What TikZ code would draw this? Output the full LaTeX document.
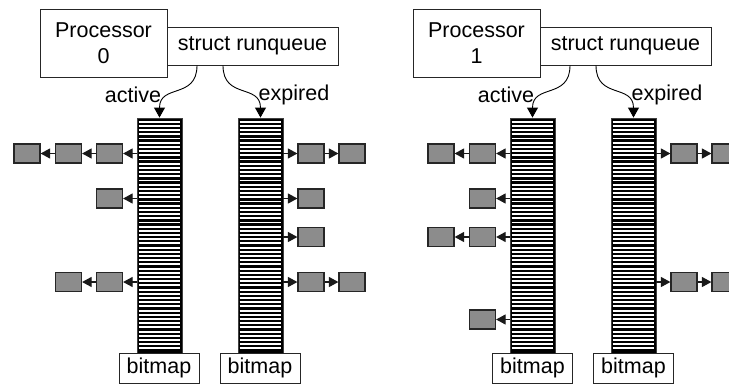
\documentclass[tikz,border=0pt]{standalone}
\usepackage{fontspec}
\setmainfont{Liberation Sans}
\usetikzlibrary{arrows.meta}
\tikzset{
  box/.style={draw=black!85, line width=0.9pt, fill=white, inner sep=0pt, align=center},
  proc/.style={box, minimum width=127pt, minimum height=68pt},
  rq/.style={box, minimum width=171pt, minimum height=38pt},
  bmp/.style={box, minimum width=80pt, minimum height=30pt},
  arr/.style={draw=black!75, line width=0.9pt, fill=black, minimum width=45pt, minimum height=235pt, inner sep=0pt},
  task/.style={draw=black!85, line width=1.2pt, fill=black!45, minimum width=26pt, minimum height=19pt, inner sep=0pt},
  link/.style={line width=1.2pt, black!90, -{Triangle[length=9.5pt,width=10pt]}},
  curv/.style={line width=0.9pt, black, -{Triangle[length=10pt,width=11pt]}},
  lbl/.style={inner sep=0pt},
}
\newcommand{\stripes}[1]{%
  \foreach \k in {1,...,55}{%
    \draw[white, line width=1.9pt] ([xshift=2pt,yshift=-\k*4.196pt]#1.north west) -- ([xshift=-2pt,yshift=-\k*4.196pt]#1.north east);
  }}
\begin{document}
\begin{tikzpicture}[x=1pt,y=-1pt,font=\fontsize{21.5}{26}\selectfont]
\useasboundingbox (0,0) rectangle (729,384);
\clip (0,0) rectangle (729,384);

% ---------------- Processor 0 ----------------
\node[proc] (p0) at (103.5,43) {Processor\\0};
\node[rq] (rq0) at (252.5,46) {struct runqueue};
\node[arr] (a0) at (159.5,235.5) {};
\node[arr] (e0) at (260.5,235.5) {};
\stripes{a0}
\stripes{e0}
\node[bmp] (ba0) at (159,368) {bitmap};
\node[bmp] (be0) at (260,368) {bitmap};
\node[lbl] (la0) at (133,95) {active};
\node[lbl] (le0) at (294,95) {expired};
\draw[curv] ([xshift=-55.5pt]rq0.south) .. controls ([xshift=-55.5pt,yshift=-34pt]rq0.south) and ([yshift=34pt]a0.north) .. (a0.north);
\draw[curv] ([xshift=-29.5pt]rq0.south) .. controls ([xshift=-29.5pt,yshift=-34pt]rq0.south) and ([yshift=34pt]e0.north) .. (e0.north);

% active tasks proc 0
\node[task] (t0a11) at (109.5,153.5) {};
\node[task] (t0a12) at (68.5,153.5) {};
\node[task] (t0a13) at (27,153.5) {};
\node[task] (t0a21) at (109.5,198.5) {};
\node[task] (t0a41) at (109.5,282) {};
\node[task] (t0a42) at (68.5,282) {};
\draw[link] (a0.west |- t0a11.east) -- (t0a11.east);
\draw[link] (t0a11) -- (t0a12);
\draw[link] (t0a12) -- (t0a13);
\draw[link] (a0.west |- t0a21.east) -- (t0a21.east);
\draw[link] (a0.west |- t0a41.east) -- (t0a41.east);
\draw[link] (t0a41) -- (t0a42);

% expired tasks proc 0
\node[task] (t0e11) at (311,153.5) {};
\node[task] (t0e12) at (352,153.5) {};
\node[task] (t0e21) at (311,198.5) {};
\node[task] (t0e31) at (311,237) {};
\node[task] (t0e41) at (311,282) {};
\node[task] (t0e42) at (352,282) {};
\draw[link] (e0.east |- t0e11.west) -- (t0e11.west);
\draw[link] (t0e11) -- (t0e12);
\draw[link] (e0.east |- t0e21.west) -- (t0e21.west);
\draw[link] (e0.east |- t0e31.west) -- (t0e31.west);
\draw[link] (e0.east |- t0e41.west) -- (t0e41.west);
\draw[link] (t0e41) -- (t0e42);

% ---------------- Processor 1 ----------------
\node[proc] (p1) at (476.5,43) {Processor\\1};
\node[rq] (rq1) at (625.5,46) {struct runqueue};
\node[arr] (a1) at (532.5,235.5) {};
\node[arr] (e1) at (633.5,235.5) {};
\stripes{a1}
\stripes{e1}
\node[bmp] (ba1) at (532.5,368) {bitmap};
\node[bmp] (be1) at (633.5,368) {bitmap};
\node[lbl] (la1) at (506,95) {active};
\node[lbl] (le1) at (667,95) {expired};
\draw[curv] ([xshift=-55.5pt]rq1.south) .. controls ([xshift=-55.5pt,yshift=-34pt]rq1.south) and ([yshift=34pt]a1.north) .. (a1.north);
\draw[curv] ([xshift=-29.5pt]rq1.south) .. controls ([xshift=-29.5pt,yshift=-34pt]rq1.south) and ([yshift=34pt]e1.north) .. (e1.north);

% active tasks proc 1
\node[task] (t1a11) at (482.5,153.5) {};
\node[task] (t1a12) at (441,153.5) {};
\node[task] (t1a21) at (482.5,198.5) {};
\node[task] (t1a31) at (482.5,237) {};
\node[task] (t1a32) at (441,237) {};
\node[task] (t1a51) at (482.5,319.5) {};
\draw[link] (a1.west |- t1a11.east) -- (t1a11.east);
\draw[link] (t1a11) -- (t1a12);
\draw[link] (a1.west |- t1a21.east) -- (t1a21.east);
\draw[link] (a1.west |- t1a31.east) -- (t1a31.east);
\draw[link] (t1a31) -- (t1a32);
\draw[link] (a1.west |- t1a51.east) -- (t1a51.east);

% expired tasks proc 1
\node[task] (t1e11) at (684,153.5) {};
\node[task] (t1e12) at (725,153.5) {};
\node[task] (t1e41) at (684,282) {};
\node[task] (t1e42) at (725,282) {};
\draw[link] (e1.east |- t1e11.west) -- (t1e11.west);
\draw[link] (t1e11) -- (t1e12);
\draw[link] (e1.east |- t1e41.west) -- (t1e41.west);
\draw[link] (t1e41) -- (t1e42);
\end{tikzpicture}
\end{document}
